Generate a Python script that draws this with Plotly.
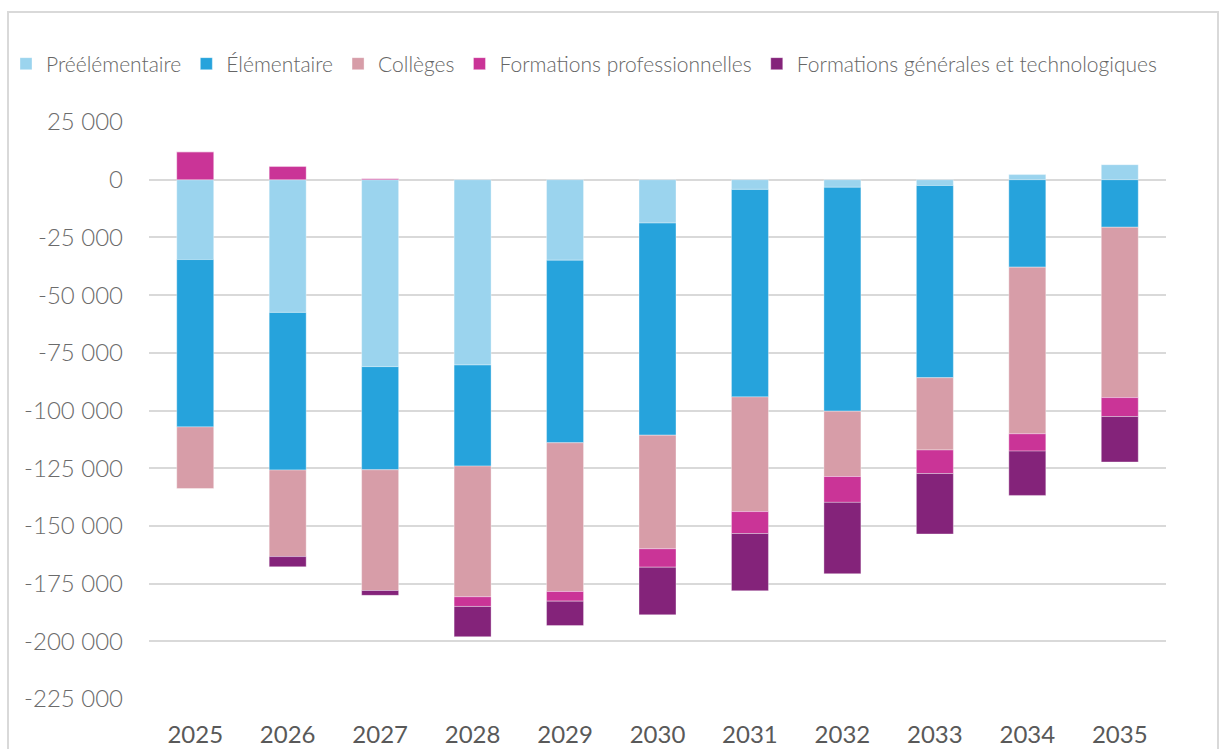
import plotly.graph_objects as go

years = ["2025", "2026", "2027", "2028", "2029", "2030", "2031", "2032", "2033", "2034", "2035"]

pre_elementaire = [-34600, -57500, -81000, -80300, -34900, -18800, -4200, -3300, -2500, 2200, 6500]
elementaire = [-72500, -68300, -44700, -43800, -79100, -91900, -89900, -97000, -83300, -37900, -20600]
colleges = [-26700, -37500, -52300, -56600, -64400, -49200, -49700, -28300, -31300, -72200, -73800]
form_pro = [12100, 5700, 400, -4200, -4200, -8000, -9500, -11200, -10200, -7500, -8200]
form_gen_tech = [0, -4400, -2100, -13100, -10600, -20600, -24800, -30900, -26200, -19200, -19700]

series_names = ["Préélémentaire", "Élémentaire", "Collèges",
                "Formations professionnelles", "Formations générales et technologiques"]
series_values = [pre_elementaire, elementaire, colleges, form_pro, form_gen_tech]
series_colors = ["#9BD4EE", "#26A3DC", "#D79DA8", "#CA3497", "#84237A"]

ytick_vals = [25000, 0, -25000, -50000, -75000, -100000, -125000, -150000, -175000, -200000, -225000]
ytick_text = ["25 000", "0", "-25 000", "-50 000", "-75 000", "-100 000", "-125 000",
              "-150 000", "-175 000", "-200 000", "-225 000"]

FONT = "Lato"

fig = go.Figure()
for name, vals, col in zip(series_names, series_values, series_colors):
    fig.add_trace(go.Bar(
        x=years, y=vals, name=name,
        marker=dict(color=col, line=dict(color="rgba(255,255,255,0.35)", width=1)),
    ))

W, H = 1220, 749
L, R, T, B = 149, 54, 122, 50
pw, ph = W - L - R, H - T - B

def px_x(x):
    return (x - L) / pw

def px_y(y):
    return (H - B - y) / ph

fig.update_layout(
    width=W, height=H,
    margin=dict(l=L, r=R, t=T, b=B, autoexpand=False),
    barmode="relative",
    bargap=0.6,
    plot_bgcolor="white",
    paper_bgcolor="white",
    font=dict(family=FONT, color="#6b6b6b", weight=300),
    legend=dict(
        orientation="h",
        x=px_x(6), xanchor="left",
        y=px_y(64), yanchor="middle",
        font=dict(size=21, color="#666666", family=FONT, weight=300),
        traceorder="normal",
        itemwidth=30,
        bgcolor="rgba(0,0,0,0)",
    ),
    xaxis=dict(
        type="category",
        showgrid=False,
        showline=False,
        ticks="",
        tickfont=dict(size=24, color="#595959", family=FONT, weight=400),
        ticklabelstandoff=19,
    ),
    yaxis=dict(
        range=[-225000, 25000],
        tickvals=ytick_vals,
        ticktext=ytick_text,
        tickfont=dict(size=24, color="#6b6b6b", family=FONT, weight=300),
        showgrid=True,
        gridcolor="#d9d9d9",
        gridwidth=2,
        zeroline=True,
        zerolinecolor="#d9d9d9",
        zerolinewidth=2,
        showline=False,
        ticks="",
        ticklabelstandoff=25,
    ),
)

fig.add_shape(
    type="rect", xref="paper", yref="paper",
    x0=px_x(8), x1=px_x(1218), y0=px_y(760), y1=px_y(12),
    line=dict(color="#d9d9d9", width=2),
    fillcolor="rgba(0,0,0,0)",
    layer="below",
)

fig.write_html(
    "out.html",
    config={"displayModeBar": False},
    post_script="document.body.style.margin='0';document.body.style.overflow='hidden';",
)
